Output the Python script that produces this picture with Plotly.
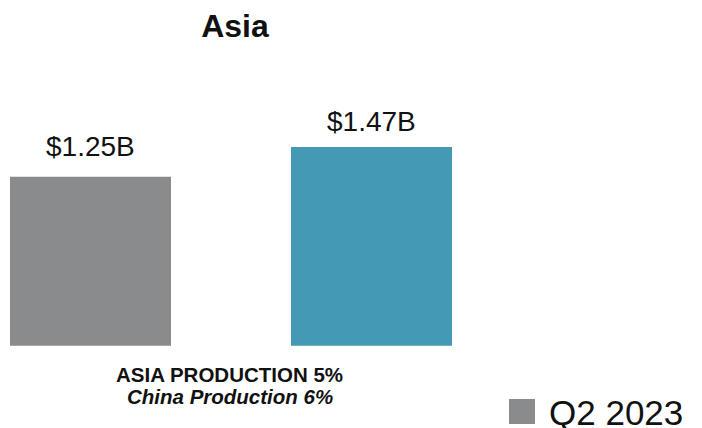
import plotly.graph_objects as go

# ---- data ----
categories = [0, 1]
values = [1.25, 1.47]
value_labels = ["$1.25B", "$1.47B"]
bar_colors = ["#898b8d", "#4499b5"]
title_text = "Asia"
note_line1 = "ASIA PRODUCTION 5%"
note_line2 = "China Production 6%"
legend_label = "Q2 2023"

W, H = 702, 428
FONT = "Arial, 'Liberation Sans', sans-serif"
label_offsets = [19, 14]

fig = go.Figure()
fig.add_trace(go.Bar(
    x=categories, y=values, width=0.573,
    marker=dict(color=bar_colors, line=dict(width=0)),
    showlegend=False, hoverinfo="skip",
))

annotations = []
for xv, yv, lab, off in zip(categories, values, value_labels, label_offsets):
    annotations.append(dict(
        x=xv, y=yv, xref="x", yref="y", text=lab, showarrow=False,
        yanchor="bottom", yshift=off - 6,
        font=dict(family=FONT, size=28, color="#111111"),
    ))

annotations.append(dict(
    x=229 / W, y=1 - 374 / H, xref="paper", yref="paper",
    text="<b>" + note_line1 + "</b>", showarrow=False,
    xanchor="center", yanchor="middle",
    font=dict(family=FONT, size=20.5, color="#111111"),
))
annotations.append(dict(
    x=230 / W, y=1 - 396 / H, xref="paper", yref="paper",
    text="<b><i>" + note_line2 + "</i></b>", showarrow=False,
    xanchor="center", yanchor="middle",
    font=dict(family=FONT, size=20.5, color="#111111"),
))
annotations.append(dict(
    x=547 / W, y=1 - 412 / H, xref="paper", yref="paper",
    text=legend_label, showarrow=False,
    xanchor="left", yanchor="middle",
    font=dict(family=FONT, size=35, color="#111111"),
))

shapes = [dict(
    type="rect", xref="paper", yref="paper",
    x0=509 / W, x1=535 / W, y0=1 - 424 / H, y1=1 - 399 / H,
    fillcolor=bar_colors[0], line=dict(width=0),
)]

fig.update_layout(
    width=W, height=H,
    margin=dict(l=0, r=0, t=0, b=0),
    paper_bgcolor="white", plot_bgcolor="white",
    title=dict(
        text="<b>" + title_text + "</b>",
        x=235 / W, xanchor="center", y=1 - 26 / H, yanchor="middle",
        font=dict(family=FONT, size=32, color="#111111"),
    ),
    xaxis=dict(range=[-90.5 / 281, (W - 90.5) / 281], visible=False,
               showgrid=False, zeroline=False),
    yaxis=dict(range=[-(H - 345.7) / 135.17, 345.7 / 135.17], visible=False,
               showgrid=False, zeroline=False),
    annotations=annotations,
    shapes=shapes,
    showlegend=False,
)

fig.write_html("out.html")
